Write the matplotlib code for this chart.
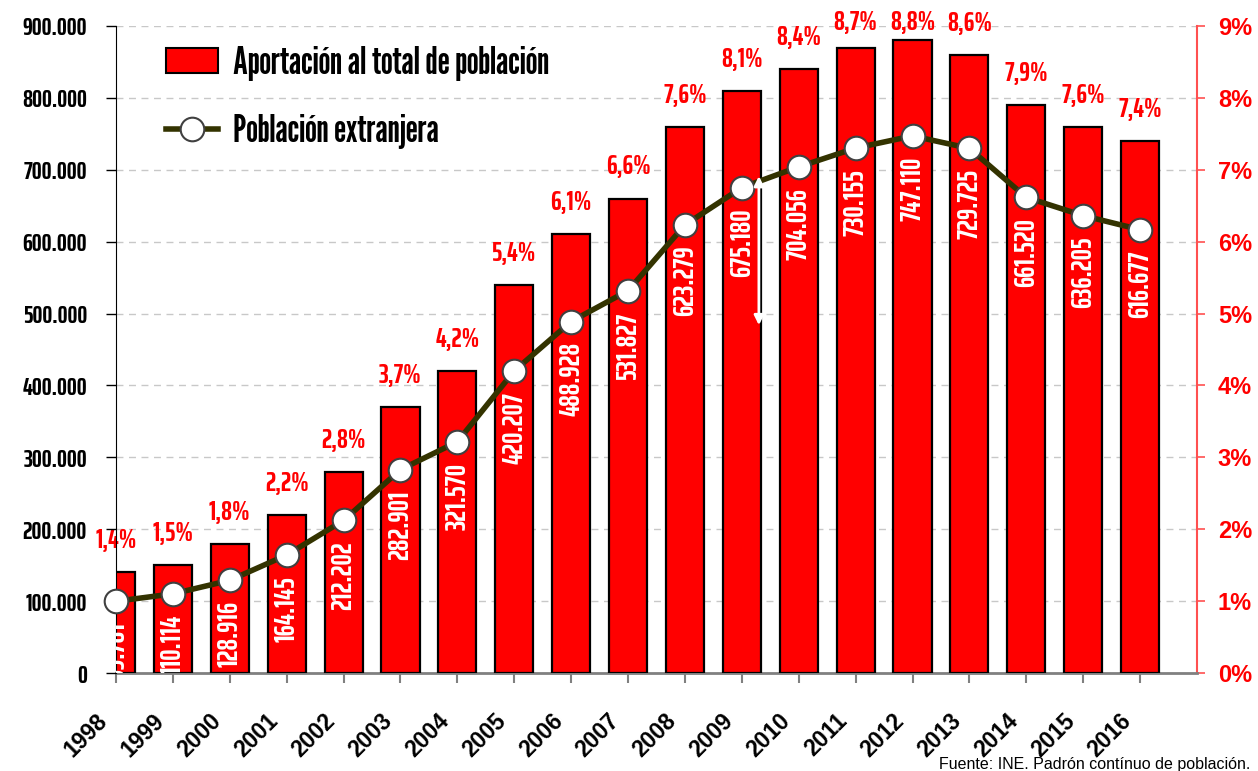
import matplotlib
matplotlib.use("Agg")
import matplotlib.pyplot as plt
from matplotlib.patches import Patch
from matplotlib.lines import Line2D
from matplotlib.transforms import ScaledTranslation

years = ["1998", "1999", "2000", "2001", "2002", "2003", "2004", "2005", "2006", "2007",
         "2008", "2009", "2010", "2011", "2012", "2013", "2014", "2015", "2016"]
aportacion_pct = [1.4, 1.5, 1.8, 2.2, 2.8, 3.7, 4.2, 5.4, 6.1, 6.6,
                  7.6, 8.1, 8.4, 8.7, 8.8, 8.6, 7.9, 7.6, 7.4]
poblacion_extranjera = [99781, 110114, 128916, 164145, 212202, 282901, 321570, 420207, 488928, 531827,
                        623279, 675180, 704056, 730155, 747110, 729725, 661520, 636205, 616677]
left_ticks = [0, 100000, 200000, 300000, 400000, 500000, 600000, 700000, 800000, 900000]
right_ticks = [0, 1, 2, 3, 4, 5, 6, 7, 8, 9]
legend_labels = ["Aportación al total de población", "Población extranjera"]
source_text = "Fuente: INE. Padrón contínuo de población."

NUM_FONT = ["Saira ExtraCondensed", "DejaVu Sans"]
LEG_FONT = ["League Gothic", "DejaVu Sans"]
ARIAL = ["Liberation Sans", "DejaVu Sans"]
RED = "#ff0000"
LINE_COL = "#333300"


def fmt_thousands(v):
    return f"{v:,.0f}".replace(",", ".")


fig = plt.figure(figsize=(12.58, 7.71), dpi=100)
axb = fig.add_axes([0.0922, 0.1271, 0.8593, 0.8392])   # bars, percent (right axis)
axl = axb.twinx()                                         # line, absolute (left axis)
axl.yaxis.tick_left()
axl.yaxis.set_label_position("left")
axb.yaxis.tick_right()
axl.set_zorder(axb.get_zorder() + 1)
axl.patch.set_visible(False)

x = list(range(len(years)))
axb.bar(x, aportacion_pct, width=0.67, color=RED, edgecolor="black", linewidth=1.6, zorder=3)
axb.set_ylim(0, 9)
axb.set_xlim(0, 19)
axb.set_yticks(right_ticks)
axb.set_yticklabels([f"{t}%" for t in right_ticks], color=RED, fontsize=17, fontweight="bold",
                    family=ARIAL)
axb.yaxis.grid(True, color="#c8c8c8", linestyle=(0, (5, 4)), linewidth=1)
axb.set_axisbelow(True)

axl.plot(x, poblacion_extranjera, color=LINE_COL, linewidth=4, marker="o", markersize=17,
         markerfacecolor="white", markeredgecolor="#404040", markeredgewidth=1.5, zorder=5,
         clip_on=False)
axl.set_ylim(0, 900000)
axl.set_xlim(0, 19)
axl.set_yticks(left_ticks)
axl.set_yticklabels([fmt_thousands(t) for t in left_ticks], fontsize=18, fontweight="bold",
                    family=NUM_FONT)

# spines
for a in (axb, axl):
    a.spines["top"].set_visible(False)
axl.spines["left"].set_color("black")
axl.spines["right"].set_visible(False)
axl.spines["bottom"].set_visible(False)
axb.spines["left"].set_visible(False)
axb.spines["right"].set_color("#ff5050")
axb.spines["right"].set_linewidth(1.5)
axb.spines["bottom"].set_color("#808080")
axb.spines["bottom"].set_linewidth(2)
axb.tick_params(axis="y", colors="#ff5050", length=6, width=1.2, labelcolor=RED, pad=9)
axl.tick_params(axis="y", colors="black", length=7, width=1, pad=14)

axb.set_xticks(x)
axb.set_xticklabels(years, rotation=45, ha="right", va="center", rotation_mode="anchor",
                    fontsize=16.5, fontweight="bold", family=ARIAL)
axb.tick_params(axis="x", colors="#808080", length=7, width=1.5, labelcolor="black", pad=0)
shift = ScaledTranslation(-12 / 100, -35 / 100, fig.dpi_scale_trans)
for lab in axb.get_xticklabels():
    lab.set_transform(lab.get_transform() + shift)

# percent labels above bars (kept inside the plot area at the top)
for xi, p in zip(x, aportacion_pct):
    axb.text(xi, min(p + 0.265, 8.87), f"{p:.1f}%".replace(".", ","),
             ha="center", va="bottom", color=RED, fontsize=19.5, fontweight="bold",
             family=NUM_FONT, clip_on=False)

# value labels inside bars
for xi, v in zip(x, poblacion_extranjera):
    axl.annotate(fmt_thousands(v), (xi, v), xytext=(0, -15), textcoords="offset points",
                 ha="center", va="top", rotation=90, color="white", fontsize=20.5, fontweight="bold",
                 family=NUM_FONT, clip_on=True, zorder=4)

# white double arrow artefact in the 2009 bar
axl.annotate("", xy=(11.3, 695000), xytext=(11.3, 480000),
             arrowprops=dict(arrowstyle="<|-|>", color="white", lw=2, mutation_scale=14),
             zorder=6)

handles = [Patch(facecolor=RED, edgecolor="black", linewidth=1.5),
           Line2D([0], [0], color=LINE_COL, linewidth=4, marker="o", markersize=17,
                  markerfacecolor="white", markeredgecolor="#404040", markeredgewidth=1.5)]
leg = axl.legend(handles, legend_labels,
                 loc="upper left", bbox_to_anchor=(0.105, 0.985), bbox_transform=fig.transFigure,
                 frameon=False, prop={"size": 27.5, "family": LEG_FONT},
                 handlelength=1.36, handleheight=0.65, labelspacing=0.87, handletextpad=0.37)

fig.text(0.9936, 0.002, source_text, ha="right", va="baseline", fontsize=11.5, family=ARIAL)

fig.savefig("out.png", dpi=100)
